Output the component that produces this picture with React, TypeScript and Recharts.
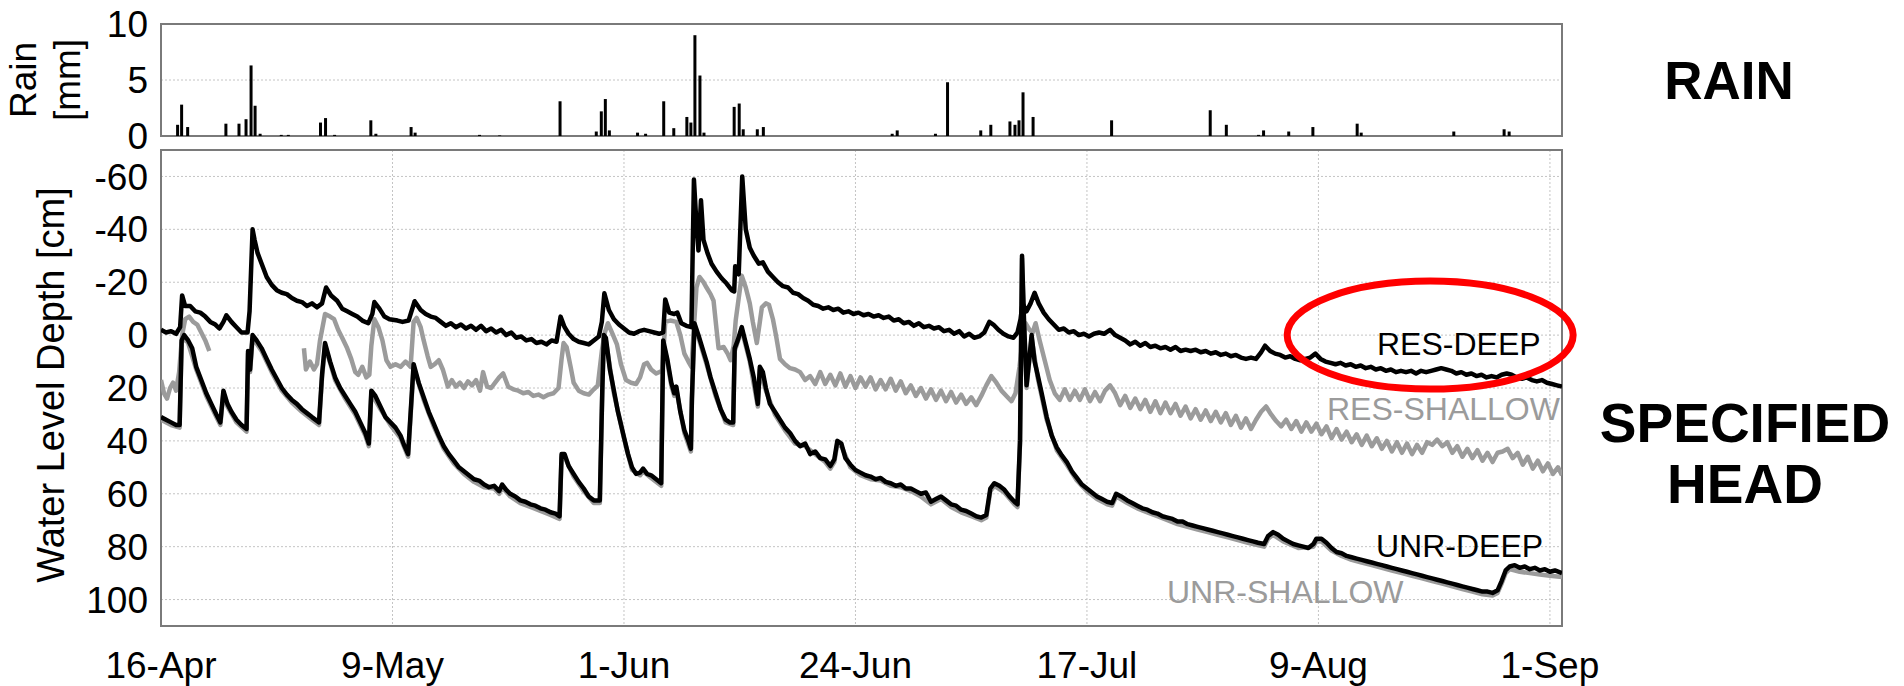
import {
  ComposedChart,
  Line,
  Bar,
  XAxis,
  YAxis,
  CartesianGrid,
  ReferenceArea,
  ReferenceDot,
} from "recharts";

// days since 16-Apr
const dateTicks = [0, 23, 46, 69, 92, 115, 138];
const dateLabels = ["16-Apr", "9-May", "1-Jun", "24-Jun", "17-Jul", "9-Aug", "1-Sep"];
const depthTicks = [-60, -40, -20, 0, 20, 40, 60, 80, 100];
const rainTicks = [0, 5, 10];

const rain: [number, number][] = [
  [1.6, 1.0], [2.0, 2.8], [2.6, 0.8], [6.4, 1.1], [7.7, 1.1], [8.4, 1.5], [8.9, 6.3], [9.3, 2.7], [9.8, 0.2],
  [11.9, 0.1], [12.6, 0.1], [15.8, 1.2], [16.3, 1.6], [17.2, 0.1], [20.8, 1.4], [21.3, 0.2], [24.8, 0.8], [25.2, 0.3],
  [31.6, 0.1], [33.6, 0.05], [39.6, 3.1], [43.2, 0.4], [43.7, 2.2], [44.1, 3.3], [44.5, 0.5], [47.3, 0.3], [48.1, 0.2],
  [49.9, 3.1], [50.9, 0.7], [52.2, 1.7], [52.6, 1.2], [53.0, 9.0], [53.5, 5.4], [53.9, 0.3], [56.9, 2.6], [57.4, 2.9],
  [57.8, 0.6], [59.2, 0.6], [59.8, 0.8], [72.6, 0.2], [73.1, 0.5], [76.9, 0.2], [78.1, 4.8], [81.4, 0.5], [82.4, 1.0],
  [84.3, 1.3], [84.8, 1.0], [85.2, 1.4], [85.6, 3.9], [86.6, 1.7], [94.4, 1.4], [104.2, 2.3], [105.8, 1.0], [109.0, 0.1],
  [109.5, 0.5], [112.0, 0.4], [114.4, 0.8], [118.8, 1.1], [119.2, 0.3], [128.4, 0.4], [133.4, 0.6], [133.9, 0.4],
];

const resDeep: [number, number][] = [
  [0, -2], [0.5, -1], [1, -1.5], [1.5, -0.5], [1.9, -3], [2.1, -15], [2.4, -11], [2.9, -11], [3.4, -9], [3.9, -8.5],
  [4.4, -7], [4.9, -5], [5.4, -4], [5.8, -2.5], [6.2, -5], [6.5, -7.5], [7, -5], [7.5, -3], [8, -1], [8.6, -1],
  [8.8, -9], [9.1, -40], [9.3, -36], [9.6, -31], [10, -27], [10.5, -22], [11, -19], [11.5, -17], [12, -16], [12.5, -15.5],
  [13, -14], [13.5, -13], [14, -12.5], [14.5, -11], [15, -12], [15.5, -10.5], [16, -12], [16.4, -18], [16.9, -15], [17.5, -13],
  [18, -10], [18.5, -9], [19, -8], [19.5, -7], [20, -5.5], [20.6, -4.5], [21, -8], [21.2, -12.5], [21.7, -10], [22.2, -7],
  [22.7, -6], [23.5, -5.5], [24, -5], [24.6, -5.5], [25.2, -12.8], [25.8, -9.5], [26.3, -8], [26.8, -7], [27.3, -6.5], [27.8, -5],
  [28.3, -3.5], [28.8, -4.5], [29.3, -3], [29.8, -4], [30.3, -2.5], [30.8, -3.5], [31.3, -2], [31.8, -3.5], [32.3, -1.5], [32.8, -2.5],
  [33.3, -1], [33.8, -2], [34.3, 0], [34.8, -1], [35.3, 1], [35.8, 0.5], [36.3, 2], [36.8, 1.5], [37.3, 3], [37.8, 2.5],
  [38.3, 3.5], [38.8, 2], [39.3, 2.5], [39.7, -7], [40.1, -3], [40.5, -0.5], [41, 1.5], [41.5, 2.5], [42, 3], [42.5, 3.5],
  [43, 2], [43.5, 0.5], [43.8, -5], [44.05, -15.8], [44.5, -9.5], [45, -6], [45.5, -4], [46, -2.5], [46.5, -1], [47, -0.5],
  [47.5, -1.5], [48, -2], [48.5, -1.5], [49, -1], [49.5, -0.5], [49.9, -1], [50.1, -13.5], [50.5, -8.5], [51, -8], [51.3, -8.5],
  [51.7, -4.5], [52.2, -3.5], [52.7, -3], [52.95, -58.8], [53.2, -42], [53.4, -32], [53.65, -51], [53.9, -36], [54.3, -31], [54.7, -27],
  [55.2, -24], [55.7, -21.5], [56.2, -19.5], [56.7, -17], [56.95, -16.5], [57.05, -26], [57.4, -23], [57.75, -60], [58.1, -40], [58.5, -33],
  [58.9, -30], [59.4, -27], [59.8, -27.5], [60.3, -24], [60.8, -22], [61.3, -20], [61.8, -18.5], [62.3, -18], [62.8, -16], [63.3, -15.5],
  [63.8, -14], [64.3, -13], [64.8, -11.5], [65.3, -11], [65.8, -10], [66.3, -10.5], [66.8, -9.5], [67.3, -10], [67.8, -8.5], [68.3, -9],
  [68.8, -8], [69.3, -8.5], [69.8, -7.5], [70.3, -8], [70.8, -7], [71.3, -7.5], [71.8, -6.5], [72.3, -7], [72.8, -5.5], [73.3, -6],
  [73.8, -4.5], [74.3, -5], [74.8, -3.5], [75.3, -4.5], [75.8, -3], [76.3, -3.5], [76.8, -2.5], [77.3, -3], [77.8, -1.5], [78.3, -2],
  [78.8, -0.5], [79.3, -1.5], [79.8, 0.5], [80.3, -0.5], [80.8, 1], [81.3, 0.5], [81.8, -1], [82.3, -5], [82.7, -4], [83.2, -2],
  [83.7, -0.5], [84.2, 0.5], [84.7, 1], [85.1, -1], [85.4, -6], [85.6, -12], [86, -9], [86.4, -12], [86.8, -16], [87.2, -12],
  [87.7, -8.5], [88.2, -6], [88.7, -4], [89.2, -2], [89.7, -2.5], [90.2, -1], [90.7, -1.5], [91.2, 0], [91.7, -0.5], [92.2, 0.5],
  [92.7, -0.5], [93.2, -1], [93.7, -0.5], [94.3, -2], [94.8, 0], [95.3, 1], [95.8, 2], [96.3, 3.5], [96.8, 2.5], [97.3, 4],
  [97.8, 3], [98.3, 4.5], [98.8, 4], [99.3, 5], [99.8, 4.5], [100.3, 5.5], [100.8, 4.5], [101.3, 6], [101.8, 5.5], [102.3, 6],
  [102.8, 5.5], [103.3, 6.5], [103.8, 6], [104.3, 7], [104.8, 6.5], [105.3, 7.5], [105.8, 7], [106.3, 8], [106.8, 7.5], [107.3, 8.5],
  [107.8, 9], [108.3, 8.5], [108.8, 9], [109.3, 6.5], [109.7, 4], [110.2, 6], [110.7, 7], [111.2, 7.5], [111.7, 8.5], [112.2, 8],
  [112.7, 9], [113.2, 9.5], [113.7, 9], [114.2, 8.5], [114.7, 7], [115.2, 9], [115.7, 10], [116.2, 10.5], [116.7, 11], [117.2, 10.5],
  [117.7, 11.5], [118.2, 11], [118.7, 12], [119.2, 11.5], [119.7, 12.5], [120.2, 12], [120.7, 13], [121.2, 12.5], [121.7, 13.5], [122.2, 13],
  [122.7, 14], [123.2, 13.5], [123.7, 14], [124.2, 13.5], [124.7, 14.5], [125.2, 13.5], [125.7, 14], [126.2, 13.5], [126.7, 13], [127.2, 12.5],
  [127.7, 13], [128.2, 13.5], [128.7, 14.5], [129.2, 14], [129.7, 15], [130.2, 14.5], [130.7, 15.5], [131.2, 15], [131.7, 16], [132.2, 15.5],
  [132.7, 16], [133.2, 15], [133.7, 14.5], [134.2, 15], [134.7, 16], [135.2, 16.5], [135.7, 16], [136.2, 17], [136.7, 17.5], [137.2, 17],
  [137.7, 18], [138.2, 18.5], [138.7, 19], [139.2, 19.5],
];

const resShallow: [number, number | null][] = [
  [0, 17], [0.3, 22], [0.6, 24], [0.9, 20], [1.2, 18], [1.5, 21], [1.8, 14], [2.1, 0], [2.4, -6], [2.8, -7],
  [3.2, -5], [3.6, -4], [4, -1], [4.4, 2], [4.8, 6], [9, null],
  [14.2, 5], [14.4, 13], [14.8, 10], [15.2, 13], [15.5, 11], [15.8, 2], [16.3, -8], [16.8, -7], [17.2, -6], [17.6, -2],
  [18, 1], [18.5, 5], [18.9, 9], [19.3, 14], [19.6, 15], [20, 12], [20.4, 16], [20.7, 15], [20.9, 4], [21.2, -6],
  [21.6, -3], [22, 2], [22.4, 9.5], [22.8, 12], [23.3, 11], [23.8, 12], [24.3, 10], [24.8, 12], [25.1, -5], [25.4, -6.5],
  [25.8, -3], [26.1, 2], [26.5, 8], [26.8, 12], [27.2, 11], [27.6, 9.5], [28, 13], [28.5, 19.5], [28.9, 17], [29.3, 19.5],
  [29.7, 18], [30.1, 20], [30.5, 17.5], [30.9, 19], [31.3, 17], [31.7, 21], [32, 14], [32.4, 19.5], [32.8, 20], [33.2, 18],
  [33.6, 16], [34, 14.5], [34.5, 19.5], [35, 20.5], [35.5, 21], [36, 22], [36.5, 21.5], [37, 23], [37.5, 22.5], [38, 23.5],
  [38.5, 22.5], [39, 22], [39.5, 20], [39.8, 9], [40, 3], [40.3, 4.5], [40.7, 12], [41, 18], [41.5, 21], [42, 22],
  [42.5, 22.5], [43, 20.5], [43.4, 19], [43.8, 6], [44.1, -1], [44.4, -4.5], [44.8, -1], [45.3, 3.5], [45.7, 11], [46.2, 17],
  [46.7, 18], [47.2, 18.5], [47.6, 16], [48, 11], [48.3, 10.5], [48.7, 13], [49.2, 14.5], [49.8, 13.5], [50.1, -5], [50.6, -5.5],
  [51.2, -5], [51.6, 0], [52, 7], [52.4, 10], [52.7, 12], [53.2, -18], [53.5, -22], [53.9, -20], [54.2, -18], [54.6, -15.5],
  [54.9, -13], [55.2, -2], [55.4, 5], [55.9, 4.5], [56.3, 7], [56.6, 9.5], [56.9, 4], [57.1, -5.5], [57.7, -22.5], [58.1, -18],
  [58.5, -12], [58.8, -5], [59.2, 3], [59.5, -5], [59.7, -10.5], [60.1, -12], [60.4, -11.5], [60.8, -6], [61.1, 0], [61.5, 9],
  [62, 11], [62.5, 12.5], [63, 13], [63.5, 14], [64, 17], [64.5, 15.5], [65, 18.5], [65.5, 14], [66, 18.5], [66.5, 15],
  [67, 19], [67.5, 14.5], [68, 19.5], [68.5, 15.5], [69, 20], [69.5, 16], [70, 19.5], [70.5, 16], [71, 20.5], [71.5, 17],
  [72, 20.5], [72.5, 16.5], [73, 21], [73.5, 17.5], [74, 22], [74.5, 19], [75, 23], [75.5, 20], [76, 24], [76.5, 20.5],
  [77, 24.5], [77.5, 21], [78, 25], [78.5, 21.5], [79, 25.5], [79.5, 22.5], [80, 26], [80.5, 23.5], [81, 26.5], [81.5, 23],
  [82, 19], [82.5, 15.5], [83, 18], [83.5, 21], [84, 23], [84.5, 25], [84.9, 22], [85.3, 12], [85.6, 2], [85.9, -4.5],
  [86.3, -2], [86.6, -1], [86.9, -4.5], [87.3, 2], [87.8, 9.5], [88.3, 17], [88.8, 22], [89.3, 24.5], [89.8, 20.5], [90.3, 24.5],
  [90.8, 21], [91.3, 24.5], [91.8, 20.5], [92.3, 25], [92.8, 21.5], [93.3, 25], [93.8, 21], [94.3, 19], [94.8, 22], [95.3, 26.5],
  [95.8, 23], [96.3, 27.5], [96.8, 24], [97.3, 28], [97.8, 24.5], [98.3, 29], [98.8, 25], [99.3, 29.5], [99.8, 25.5], [100.3, 29.5],
  [100.8, 26], [101.3, 30.5], [101.8, 27], [102.3, 31.5], [102.8, 28], [103.3, 32], [103.8, 28.5], [104.3, 32.5], [104.8, 29], [105.3, 33],
  [105.8, 29.5], [106.3, 34], [106.8, 30.5], [107.3, 35], [107.8, 31.5], [108.3, 35.5], [108.8, 32], [109.3, 29], [109.8, 27], [110.3, 30],
  [110.8, 32.5], [111.3, 34.5], [111.8, 32], [112.3, 35.5], [112.8, 32.5], [113.3, 36.5], [113.8, 33], [114.3, 36.5], [114.8, 33.5], [115.3, 37.5],
  [115.8, 34.5], [116.3, 39], [116.8, 35.5], [117.3, 39.5], [117.8, 36.5], [118.3, 40.5], [118.8, 37.5], [119.3, 41.5], [119.8, 38], [120.3, 42],
  [120.8, 39], [121.3, 43], [121.8, 40], [122.3, 44], [122.8, 40.5], [123.3, 44.5], [123.8, 41], [124.3, 45], [124.8, 41.5], [125.3, 44.5],
  [125.8, 40.5], [126.3, 41.5], [126.8, 39.5], [127.3, 42], [127.8, 40.5], [128.3, 44.5], [128.8, 42], [129.3, 46], [129.8, 43], [130.3, 46.5],
  [130.8, 43.5], [131.3, 47.5], [131.8, 44.5], [132.3, 48], [132.8, 44.5], [133.3, 44], [133.8, 43], [134.3, 46.5], [134.8, 44.5], [135.3, 49],
  [135.8, 46], [136.3, 50.5], [136.8, 47.5], [137.3, 51.5], [137.8, 48.5], [138.3, 52.5], [138.8, 50], [139.2, 53],
];

const unrDeep: [number, number][] = [
  [0, 31], [0.5, 32], [1, 33], [1.5, 34], [1.85, 34], [2.05, 2], [2.3, 0], [2.7, 2], [3.1, 5], [3.5, 12],
  [4, 17], [4.5, 22], [5, 26], [5.5, 30], [5.9, 33], [6.2, 21], [6.6, 26], [7, 29], [7.5, 32], [8, 34],
  [8.5, 35.5], [8.65, 6], [8.85, 13], [9.1, 0], [9.5, 2], [10, 5], [10.5, 9], [11, 13], [11.5, 16.5], [12, 20],
  [12.5, 22.5], [13, 24.5], [13.5, 26], [14, 28], [14.5, 29.5], [15, 31], [15.7, 33], [16, 15], [16.3, 3], [16.8, 10],
  [17.3, 16], [17.8, 20], [18.3, 23], [18.8, 26], [19.3, 29], [19.8, 33], [20.3, 37], [20.65, 41], [20.9, 21], [21.3, 23],
  [21.8, 27], [22.3, 31], [22.8, 33], [23.3, 35], [23.8, 38], [24.2, 42], [24.55, 45], [25.1, 11], [25.6, 18], [26.1, 23.5],
  [26.6, 29], [27.1, 33.5], [27.6, 38], [28.1, 42], [28.6, 45], [29.1, 47.5], [29.6, 50], [30.1, 51.5], [30.6, 53], [31.1, 54.5],
  [31.6, 55], [32.1, 56.5], [32.6, 57.5], [33.1, 57], [33.6, 59], [33.9, 56.5], [34.3, 58.5], [34.7, 60], [35.2, 61], [35.7, 62.5],
  [36.2, 63], [36.7, 64], [37.2, 64.5], [37.7, 65.5], [38.2, 66], [38.7, 67], [39.2, 67.5], [39.6, 68.5], [39.8, 45], [40.1, 45],
  [40.5, 49.5], [41, 52.5], [41.5, 55.5], [42, 58], [42.5, 61], [43, 62.5], [43.6, 62.5], [43.85, 20], [44.0, 0], [44.2, 1],
  [44.6, 13], [45, 21], [45.4, 29], [45.9, 37], [46.4, 45], [46.8, 50], [47.2, 52.5], [47.6, 52], [47.9, 50.5], [48.3, 52.5],
  [48.7, 53], [49.2, 54.5], [49.7, 56], [49.9, 2], [50.3, 9], [50.7, 18], [51, 22], [51.2, 19.5], [51.6, 29], [52, 36],
  [52.4, 40], [52.65, 43], [52.75, 24], [53, -4.5], [53.4, 0], [53.8, 5], [54.2, 10], [54.6, 16], [55.1, 22], [55.6, 28],
  [56.1, 32], [56.5, 33], [56.85, 33], [57.0, 5], [57.3, 2], [57.7, -3], [58.1, 3], [58.5, 9], [58.9, 16], [59.3, 26],
  [59.5, 12], [59.8, 14], [60.1, 20], [60.5, 26], [61, 29], [61.5, 32], [62, 35], [62.5, 37], [63, 40], [63.5, 42],
  [64, 41], [64.5, 45], [65, 44], [65.5, 46.5], [66, 47], [66.5, 49.5], [66.9, 47], [67.2, 40], [67.6, 41], [68, 46.5],
  [68.5, 49], [69, 51], [69.5, 52], [70, 53], [70.5, 53.5], [71, 54.5], [71.5, 54], [72, 55.5], [72.5, 56], [73, 57],
  [73.5, 56.5], [74, 58], [74.5, 58], [75, 59], [75.5, 60], [76, 59.5], [76.5, 63], [77, 62], [77.5, 61], [78, 62.5],
  [78.5, 64], [79, 64.5], [79.5, 66], [80, 66.5], [80.5, 67.5], [81, 68.5], [81.5, 69], [82, 68], [82.4, 58], [82.8, 56],
  [83.3, 57], [83.8, 58.5], [84.3, 61], [84.8, 63], [85.1, 64], [85.35, 40], [85.55, -30], [85.75, -5], [86, 19], [86.3, 8],
  [86.5, 0], [86.8, 10], [87.1, 15], [87.5, 22], [88, 31], [88.5, 38], [89, 42.5], [89.5, 45.5], [90, 48], [90.5, 51.5],
  [91, 54], [91.5, 56.5], [92, 58], [92.5, 59.5], [93, 61], [93.5, 62], [94, 63], [94.5, 63.5], [94.9, 60], [95.4, 61],
  [96, 62.5], [96.5, 63.5], [97, 64.5], [97.5, 65.5], [98, 66], [98.5, 67], [99, 67.5], [99.5, 68.5], [100, 69], [100.5, 69.5],
  [101, 70.5], [101.5, 70.5], [102, 71.5], [102.5, 72], [103, 72.5], [103.5, 73], [104, 73.5], [104.5, 74], [105, 74.5], [105.5, 75],
  [106, 75.5], [106.5, 76], [107, 76.5], [107.5, 77], [108, 77.5], [108.5, 78], [109, 78.5], [109.6, 79], [110, 76], [110.5, 74.5],
  [111, 75.5], [111.5, 77], [112, 78], [112.5, 79], [113, 79.5], [113.5, 80], [114, 80.5], [114.5, 79], [114.8, 77], [115.3, 77],
  [115.8, 78.5], [116.3, 80.5], [116.8, 82], [117.3, 82.5], [117.8, 83.5], [118.3, 84], [118.8, 84.5], [119.3, 85], [119.8, 85.5], [120.3, 86],
  [120.8, 86.5], [121.3, 87], [121.8, 87.5], [122.3, 88], [122.8, 88.5], [123.3, 89], [123.8, 89.5], [124.3, 90], [124.8, 90.5], [125.3, 91],
  [125.8, 91.5], [126.3, 92], [126.8, 92.5], [127.3, 93], [127.8, 93.5], [128.3, 94], [128.8, 94.5], [129.3, 95], [129.8, 95.5], [130.3, 96],
  [130.8, 96.5], [131.3, 97], [131.8, 97], [132.3, 97.5], [132.8, 96.5], [133.2, 93], [133.6, 89], [134, 87.5], [134.5, 87], [135, 88],
  [135.5, 87.5], [136, 88.5], [136.5, 88], [137, 89], [137.5, 88.5], [138, 89.5], [138.5, 89], [139.2, 90],
];

const unrShallow: [number, number][] = [
  [0, 32], [1, 34], [1.85, 35], [2.05, 3], [2.3, 1], [2.7, 3], [3.5, 13], [4.5, 23], [5.5, 31], [5.9, 34],
  [6.2, 22], [6.6, 27], [7.5, 33], [8.5, 36.5], [8.65, 7], [8.85, 14], [9.1, 1], [10, 6], [11, 14], [12, 21],
  [13, 25.5], [14, 29], [15, 32], [15.7, 34], [16, 16], [16.3, 4], [17.3, 17], [18.3, 24], [19.3, 30], [20.3, 38],
  [20.65, 42], [20.9, 22], [21.8, 28], [22.8, 34], [23.8, 39], [24.55, 46], [25.1, 12], [26.1, 24.5], [27.1, 34.5], [28.1, 43],
  [29.1, 48.5], [30.1, 52.5], [31.1, 55.5], [32.1, 57.5], [33.1, 58], [33.6, 60], [33.9, 57.5], [34.7, 61], [35.7, 63.5], [36.7, 65],
  [37.7, 66.5], [38.7, 68], [39.6, 69.5], [39.8, 46], [40.1, 46], [41, 53.5], [42, 59], [43, 63.5], [43.6, 63.5], [43.85, 21],
  [44, 1], [44.2, 2], [45, 22], [46, 39], [46.8, 51], [47.6, 53], [47.9, 51.5], [48.7, 54], [49.7, 57], [49.9, 3],
  [50.3, 10], [50.7, 19], [51, 23], [51.2, 20.5], [52, 37], [52.65, 44], [52.75, 25], [53, -3.5], [53.4, 1], [54.2, 11],
  [55.1, 23], [56.1, 33], [56.85, 34], [57, 6], [57.7, -2], [58.5, 10], [59.3, 27], [59.5, 13], [60.1, 21], [61, 30],
  [62, 36], [63, 41], [64, 42], [65, 45], [66, 48], [66.5, 50.5], [66.9, 48], [67.2, 41], [67.6, 42], [68.5, 50],
  [69.5, 53], [70.5, 54.5], [71.5, 55], [72.5, 57], [73.5, 57.5], [74.5, 59], [75.5, 61], [76.5, 64], [77.5, 62], [78.5, 65],
  [79.5, 67], [80.5, 68.5], [81.5, 70], [82, 69], [82.4, 59], [82.8, 57], [83.8, 59.5], [84.8, 64], [85.1, 65], [85.35, 41],
  [85.55, -29], [85.75, -4], [86, 20], [86.5, 1], [87.1, 16], [88, 32], [89, 43.5], [90, 49], [91, 55], [92, 59],
  [93, 62], [94, 64], [94.5, 64.5], [94.9, 61], [96, 63.5], [97, 65.5], [98, 67], [99, 68.5], [100, 70], [101, 71.5],
  [102, 72.5], [103, 73.5], [104, 74.5], [105, 75.5], [106, 76.5], [107, 77.5], [108, 78.5], [109.6, 80], [110, 77], [110.5, 75.5],
  [111.5, 78], [113, 80.5], [114.5, 80], [114.8, 78], [115.3, 78], [116.3, 81.5], [117.3, 83.5], [118.3, 85], [119.3, 86], [120.3, 87],
  [121.3, 88], [122.3, 89], [123.3, 90], [124.3, 91], [125.3, 92], [126.3, 93], [127.3, 94], [128.3, 95], [129.3, 96], [130.3, 97],
  [131.3, 98], [132.3, 98.5], [132.8, 97.5], [133.2, 94], [133.6, 90], [134, 88.5], [135, 89.5], [136, 90], [137, 90.5], [138, 91],
  [139.2, 91.5],
];

const toRows = (pts: [number, number | null][]) => pts.map(([d, v]) => ({ d, v }));
const rainRows = rain.map(([d, mm]) => ({ d, mm }));

const FONT = "'Liberation Sans', Arial, sans-serif";
const X_DOMAIN: [number, number] = [0, 139.2];
const GRID = "#c4c4c4";
const FRAME = "#7a7a7a";
const GRAY = "#9b9b9b";
const tickStyle = { fill: "#000", fontSize: 37, fontFamily: FONT };
const fmtDate = (d: number) => dateLabels[dateTicks.indexOf(d)] ?? "";

const RedEllipse = (p: any) => (
  <ellipse cx={p.cx} cy={p.cy} rx={143} ry={54} fill="none" stroke="#ff0000" strokeWidth={7} />
);

export default function App() {
  return (
    <div style={{ position: "absolute", left: 0, top: 0, width: 1904, height: 686, background: "#fff" }}>
      <div style={{ position: "absolute", left: 0, top: 0 }}>
        <ComposedChart width={1904} height={170} data={rainRows} margin={{ top: 24, right: 342, bottom: 34, left: 61 }}>
          <CartesianGrid stroke={GRID} strokeDasharray="2 2" />
          <XAxis
            dataKey="d"
            type="number"
            domain={X_DOMAIN}
            ticks={dateTicks}
            allowDataOverflow
            height={0}
            tick={false}
            axisLine={false}
            tickLine={false}
          />
          <YAxis
            type="number"
            domain={[0, 10]}
            ticks={rainTicks}
            interval={0}
            width={100}
            tick={tickStyle}
            tickLine={false}
            axisLine={false}
            tickMargin={7}
          />
          <Bar dataKey="mm" fill="#000" barSize={3} isAnimationActive={false} />
          <ReferenceArea x1={0} x2={139.2} y1={0} y2={10} fill="none" stroke={FRAME} strokeWidth={2} ifOverflow="visible" />
        </ComposedChart>
      </div>

      <div style={{ position: "absolute", left: 0, top: 140 }}>
        <ComposedChart width={1904} height={546} margin={{ top: 10, right: 342, bottom: 0, left: 61 }}>
          <CartesianGrid stroke={GRID} strokeDasharray="2 2" />
          <XAxis
            dataKey="d"
            type="number"
            domain={X_DOMAIN}
            ticks={dateTicks}
            interval={0}
            allowDataOverflow
            height={60}
            tick={tickStyle}
            tickFormatter={fmtDate}
            tickLine={false}
            axisLine={false}
            tickMargin={20}
          />
          <YAxis
            type="number"
            domain={[-70, 110]}
            ticks={depthTicks}
            interval={0}
            reversed
            allowDataOverflow
            width={100}
            tick={tickStyle}
            tickLine={false}
            axisLine={false}
            tickMargin={7}
          />
          <Line data={toRows(unrShallow)} dataKey="v" stroke={GRAY} strokeWidth={4.5} dot={false} strokeLinejoin="round" isAnimationActive={false} />
          <Line data={toRows(resShallow)} dataKey="v" stroke={GRAY} strokeWidth={4.5} dot={false} strokeLinejoin="round" isAnimationActive={false} />
          <Line data={toRows(unrDeep)} dataKey="v" stroke="#000" strokeWidth={4.5} dot={false} strokeLinejoin="round" isAnimationActive={false} />
          <Line data={toRows(resDeep)} dataKey="v" stroke="#000" strokeWidth={4.5} dot={false} strokeLinejoin="round" isAnimationActive={false} />
          <ReferenceArea x1={0} x2={139.2} y1={-70} y2={110} fill="none" stroke={FRAME} strokeWidth={2} ifOverflow="visible" />
          <ReferenceDot x={126.1} y={0} r={0} ifOverflow="visible" shape={RedEllipse} />
        </ComposedChart>
      </div>

      <svg width={1904} height={686} style={{ position: "absolute", left: 0, top: 0, pointerEvents: "none" }} fontFamily={FONT}>
        <text transform="translate(36,80) rotate(-90)" textAnchor="middle" fontSize={37}>Rain</text>
        <text transform="translate(80,80) rotate(-90)" textAnchor="middle" fontSize={37}>[mm]</text>
        <text transform="translate(64,385) rotate(-90)" textAnchor="middle" fontSize={38}>Water Level Depth [cm]</text>

        <text x={1377} y={355} fontSize={32} fill="#000">RES-DEEP</text>
        <text x={1327} y={420} fontSize={32} fill={GRAY}>RES-SHALLOW</text>
        <text x={1376} y={557} fontSize={32} fill="#000">UNR-DEEP</text>
        <text x={1167} y={603} fontSize={32} fill={GRAY}>UNR-SHALLOW</text>

        <text x={1729} y={99} textAnchor="middle" fontSize={53} fontWeight="bold">RAIN</text>
        <text x={1745} y={442} textAnchor="middle" fontSize={55} fontWeight="bold">SPECIFIED</text>
        <text x={1745} y={503} textAnchor="middle" fontSize={55} fontWeight="bold">HEAD</text>
      </svg>
    </div>
  );
}
